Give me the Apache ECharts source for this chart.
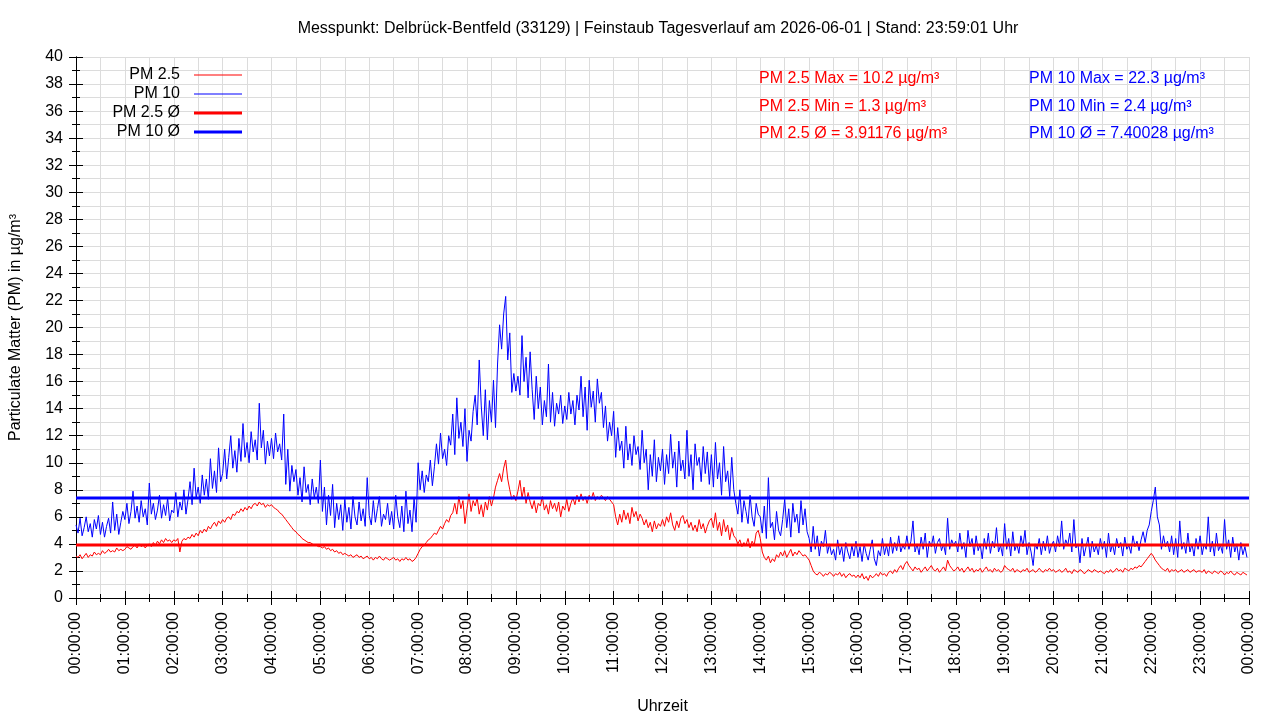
<!DOCTYPE html>
<html>
<head>
<meta charset="utf-8">
<title>Feinstaub Tagesverlauf</title>
<script src="https://cdn.jsdelivr.net/npm/echarts@6/dist/echarts.min.js"></script>
<style>
  html, body { margin: 0; padding: 0; background: #fff; }
  #chart { width: 1280px; height: 720px; }
</style>
</head>
<body>
<div id="chart"></div>
<script>
// one sample every 2.5 minutes, two lines per hour (00h ... 23h), values in µg/m³
var stepMinutes = 2.5;

var pm25 = [
    3.1, 3.0, 3.2, 2.9, 3.1, 3.3, 3.0, 3.2, 3.1, 3.4, 3.2, 3.3,
    3.2, 3.5, 3.3, 3.4, 3.6, 3.4, 3.5, 3.4, 3.7, 3.5, 3.6, 3.5,
    3.6, 3.8, 3.7, 3.6, 3.8, 3.9, 3.7, 4.0, 3.8, 3.9, 3.7, 3.9,
    4.0, 3.8, 4.1, 3.9, 4.2, 4.0, 4.3, 4.1, 4.4, 4.2, 4.3, 4.1,
    4.3, 4.2, 4.4, 3.4, 4.2, 4.4, 4.3, 4.5, 4.4, 4.7, 4.5, 4.8,
    4.6, 5.0, 4.8, 5.1, 4.9, 5.3, 5.1, 5.4, 5.6, 5.3, 5.7, 5.5,
    5.8, 5.6, 5.9, 6.0, 5.8, 6.2, 6.1, 6.4, 6.3, 6.6, 6.4, 6.7,
    6.5, 6.8, 6.6, 6.9, 7.0, 6.8, 7.1, 6.9, 7.0, 6.7, 6.9, 6.8,
    6.9, 6.7, 6.6, 6.5, 6.3, 6.2, 6.0, 5.8, 5.6, 5.4, 5.2, 5.0,
    4.9, 4.7, 4.6, 4.4, 4.3, 4.2, 4.1, 4.1, 4.0, 3.9, 3.9, 3.8,
    3.8, 3.7, 3.8, 3.6, 3.7, 3.5, 3.6, 3.4, 3.5, 3.3, 3.4, 3.2,
    3.3, 3.2, 3.1, 3.2, 3.0, 3.1, 3.2, 3.0, 3.1, 2.9, 3.0, 3.1,
    2.9, 3.0, 2.8, 3.0, 2.9, 3.1, 2.9, 2.8, 3.0, 2.9, 2.8, 2.9,
    3.0, 2.8, 2.9, 2.7, 2.9, 2.8, 3.0, 2.8, 2.9, 2.7, 2.8, 3.0,
    3.3, 3.6, 3.8, 3.9, 4.1, 4.3, 4.4, 4.6, 4.8, 4.7, 5.0, 5.3,
    5.1, 5.5, 5.8, 5.6, 6.1, 6.3, 7.0, 6.2, 7.5, 6.6, 7.2, 5.5,
    6.6, 7.7, 6.4, 7.2, 6.8, 7.4, 6.2, 6.9, 6.0, 7.1, 6.5, 7.5,
    6.8, 7.4, 8.2, 8.7, 9.2, 8.6, 9.6, 10.2, 8.8, 8.0, 7.3, 7.6,
    7.2, 7.9, 8.7, 7.4, 8.2, 7.0, 7.8, 7.1, 6.6, 7.2, 6.3, 7.0,
    6.8, 7.5, 6.5, 6.9, 6.2, 7.2, 6.6, 7.0, 6.4, 7.1, 6.0, 6.8,
    6.5, 7.3, 6.4, 7.0, 7.4, 6.9, 7.6, 7.1, 7.7, 7.2, 7.5, 7.0,
    7.6, 7.3, 7.8, 7.2, 7.5, 7.3, 7.6, 7.4, 7.2, 7.5, 7.3, 7.1,
    6.9, 6.0, 5.4, 6.2, 5.6, 6.5, 5.8, 6.3, 5.5, 6.7, 6.0, 6.4,
    5.7, 6.2, 5.9, 5.4, 5.8, 5.2, 5.6, 4.9, 5.7, 5.1, 5.5, 5.3,
    5.8, 5.3, 6.0, 5.6, 6.3, 5.4, 5.0, 5.7, 5.2, 5.9, 6.1, 5.5,
    5.8, 5.2, 5.6, 5.0, 5.4, 4.9, 5.8, 5.1, 5.5, 4.8, 5.3, 5.7,
    5.9, 5.2, 6.3, 5.0, 5.6, 4.6, 5.8, 4.9, 5.4, 4.3, 5.2, 4.6,
    4.4, 4.0, 4.3, 3.8, 4.1, 3.9, 4.4, 3.7, 4.2, 3.9, 4.8, 5.0,
    4.4, 3.4, 3.0, 2.8, 3.1, 2.6, 2.9, 2.7, 3.2, 3.0, 3.4, 3.1,
    3.5, 3.0, 3.3, 3.6, 3.1, 3.4, 3.2, 3.5, 3.3, 3.1, 3.2, 3.0,
    2.8, 2.4, 2.0, 1.8, 1.7, 1.9, 1.8, 1.6, 1.8, 1.7, 1.9, 1.8,
    1.6, 1.8, 1.7, 1.9, 1.6, 1.8, 1.5, 1.7, 1.8, 1.6, 1.7, 1.5,
    1.7, 1.5, 1.8, 1.4, 1.6, 1.3, 1.7, 1.5, 1.6, 1.8, 1.6, 1.9,
    1.7, 1.8, 1.6, 1.9, 2.0, 1.8, 2.1, 1.9, 2.2, 2.4, 2.1, 2.5,
    2.7, 2.4, 2.2, 2.0, 2.3, 2.1, 2.2, 1.9, 2.1, 2.3, 2.0, 2.2,
    2.4, 2.1, 2.0, 2.2, 1.9, 2.1, 2.3, 2.0, 2.8, 2.4, 2.2, 2.0,
    2.1, 2.3, 2.0, 2.2, 1.9, 2.1, 2.3, 2.0, 2.2, 1.9, 2.1, 2.0,
    2.2, 1.9, 2.1, 2.3, 2.0, 2.1, 1.9, 2.2, 2.0, 2.1, 1.9, 2.0,
    2.4, 2.2, 2.1, 2.0, 2.2, 1.9, 2.1, 2.0, 1.9, 2.1, 2.0, 2.2,
    1.9, 2.0, 2.1, 1.9, 2.0, 2.2, 2.0, 1.9, 2.1, 2.0, 2.2, 2.0,
    2.1, 1.9, 2.0, 2.1, 1.9, 2.0, 2.2, 1.9, 2.0, 1.8, 2.1, 2.0,
    1.9, 2.1, 2.0, 1.8, 1.9, 2.1, 2.0, 1.9, 2.1, 2.0, 1.9, 2.0,
    1.9, 1.8, 2.0, 1.9, 2.1, 1.9, 2.0, 2.2, 2.0, 2.1, 1.9, 2.2,
    2.1, 2.0, 2.2, 2.1, 2.3, 2.2, 2.4, 2.3, 2.5, 2.7, 2.9, 3.1,
    3.3, 3.1, 2.8, 2.6, 2.4, 2.2, 2.1, 2.0, 2.2, 1.9, 2.1, 2.0,
    2.1, 1.9, 2.0, 2.1, 1.9, 2.0, 2.1, 1.9, 2.0, 2.1, 1.9, 2.0,
    2.0, 1.9, 2.1, 1.8, 2.0, 1.9, 1.8, 2.0, 1.9, 1.8, 2.0, 1.9,
    1.7, 1.9, 1.8, 2.0, 1.8, 1.7, 1.9, 1.8, 1.7, 1.9, 1.8, 1.7
];

var pm10 = [
    5.4, 4.8, 5.9, 4.6, 5.2, 6.0, 4.9, 5.5, 4.5, 5.8, 5.1, 6.1,
    4.7, 5.6, 4.5, 5.3, 5.9, 4.8, 7.1, 5.0, 6.2, 4.7, 5.6, 6.4,
    5.8, 7.0, 5.5, 6.4, 7.9, 5.9, 6.8, 5.6, 7.2, 6.0, 6.6, 5.4,
    8.5, 6.2, 7.0, 5.8, 6.5, 7.6, 5.9, 6.9, 6.1, 7.4, 5.7, 6.5,
    6.3, 7.8, 6.0, 7.1, 6.5, 8.0, 6.2, 7.3, 8.6, 6.9, 9.6, 7.4,
    8.2, 7.0, 9.1, 7.6, 8.8, 7.3, 10.3, 8.1, 9.4, 7.8, 11.1, 8.6,
    9.2, 11.0, 8.8, 10.4, 12.0, 9.6, 10.9, 9.3, 11.8, 10.1, 12.9, 10.4,
    11.5, 10.0, 12.3, 10.8, 11.7, 10.2, 14.4, 11.1, 12.4, 9.9, 11.6, 10.5,
    11.8, 10.3, 12.2, 10.8, 11.4, 10.2, 13.6, 8.4, 11.0, 7.9, 9.8, 8.6,
    9.5, 7.6, 8.9, 7.1, 9.7, 7.8, 8.4, 6.9, 8.8, 7.4, 8.2, 7.0,
    10.2, 6.4, 8.2, 5.4, 7.6, 6.1, 8.4, 5.2, 7.0, 5.8, 6.9, 5.0,
    7.3, 5.6, 6.7, 5.1, 7.5, 6.0, 5.4, 7.1, 5.7, 6.6, 5.3, 8.9,
    6.1, 5.4, 7.2, 5.6, 6.6, 7.5, 5.3, 6.2, 5.8, 7.0, 5.4, 6.4,
    5.1, 7.6, 6.0, 5.2, 6.8, 4.9, 7.9, 5.5, 6.5, 4.9, 7.4, 5.6,
    10.0, 8.0, 9.4, 7.8, 9.1, 8.6, 10.2, 8.3, 9.7, 11.4, 9.9, 12.2,
    10.3, 11.0, 9.8, 12.0, 11.3, 13.6, 10.6, 14.8, 11.8, 13.0, 11.2, 14.0,
    10.1, 12.4, 11.6, 13.8, 15.0, 12.8, 17.6, 14.2, 12.0, 15.4, 11.7, 14.6,
    13.0, 16.1, 12.6, 17.3, 20.2, 18.4, 21.0, 22.3, 17.6, 19.6, 15.2, 16.6,
    15.3, 16.4, 15.0, 19.4, 16.0, 17.8, 14.8, 18.2, 15.4, 13.2, 16.4, 14.0,
    15.6, 12.8, 14.6, 13.4, 17.3, 13.0, 15.2, 12.7, 14.4, 13.6, 15.0, 12.9,
    14.2, 13.2, 15.2, 13.6, 14.6, 12.8, 15.0, 13.9, 16.4, 13.4, 15.6, 12.4,
    16.1, 14.1, 15.3, 13.0, 16.2, 14.4, 15.2, 12.6, 14.2, 11.6, 13.0, 12.0,
    13.8, 10.4, 12.6, 10.9, 11.6, 9.6, 12.7, 10.2, 11.4, 9.8, 12.0, 10.6,
    11.2, 9.5, 12.4, 10.0, 11.0, 8.0, 10.6, 9.0, 11.7, 8.6, 10.4, 9.4,
    11.0, 8.4, 10.6, 9.2, 12.1, 9.6, 10.8, 8.2, 11.6, 9.4, 10.2, 8.8,
    12.4, 9.0, 10.6, 8.0, 11.4, 9.8, 10.4, 8.6, 11.2, 9.2, 10.8, 8.4,
    10.6, 8.2, 11.5, 8.8, 10.0, 7.6, 11.2, 8.6, 9.4, 7.5, 10.4, 8.0,
    7.0, 6.2, 8.0, 5.6, 7.2, 6.4, 5.5, 7.6, 6.0, 5.3, 7.0, 6.2,
    6.0, 4.8, 6.8, 4.4, 8.9, 5.2, 5.6, 4.3, 6.4, 5.0, 4.6, 5.8,
    7.3, 5.2, 6.6, 4.5, 7.0, 5.6, 6.2, 4.8, 7.2, 5.4, 6.6, 4.9,
    4.4, 3.4, 5.3, 3.6, 4.6, 3.1, 4.2, 3.8, 5.0, 3.3, 4.0, 3.2,
    3.6, 2.8, 4.3, 3.2, 3.8, 2.7, 4.1, 3.4, 2.9, 3.9, 3.1, 4.2,
    3.0, 3.8, 2.7, 4.0, 3.3, 2.8, 3.6, 4.3, 2.9, 2.4, 3.5, 3.1,
    4.4, 3.2, 3.9, 3.1, 4.5, 3.3, 4.1, 3.5, 4.6, 3.4, 3.9, 3.6,
    4.6, 3.6, 4.2, 5.7, 3.4, 4.0, 3.2, 4.5, 3.6, 4.8, 3.0, 4.2,
    3.8, 4.6, 3.3, 4.1, 4.4, 3.5, 4.0, 3.2, 5.9, 3.6, 4.3, 3.9,
    4.2, 3.4, 4.8, 3.6, 4.1, 3.0, 5.0, 3.8, 4.4, 3.2, 4.6, 3.5,
    4.0, 2.9, 4.4, 3.6, 4.8, 3.3, 4.2, 3.7, 5.2, 3.4, 3.9, 3.1,
    5.5, 3.6, 4.4, 3.1, 4.9, 3.5, 4.0, 3.3, 4.6, 3.8, 5.0, 3.2,
    4.1, 3.4, 2.4, 4.0, 3.6, 4.4, 3.2, 4.2, 3.5, 4.6, 3.3, 3.9,
    4.2, 3.4, 4.6, 3.8, 5.7, 3.6, 4.3, 3.9, 4.8, 3.4, 5.8, 3.7,
    4.0, 2.6, 4.4, 3.1, 3.8, 4.5, 3.0, 4.2, 3.4, 3.9, 3.2, 4.4,
    3.6, 4.2, 3.0, 4.8, 3.4, 4.0, 3.2, 4.4, 3.7, 4.1, 3.1, 4.5,
    3.6, 3.9, 3.3, 4.6, 3.8, 4.2, 3.5, 4.3, 4.9, 4.1, 5.0, 5.4,
    6.4, 7.2, 8.2, 6.0, 5.4, 3.6, 4.6, 3.8, 4.2, 3.4, 4.6, 3.2,
    4.4, 3.0, 5.7, 3.6, 4.1, 3.3, 4.8, 3.4, 4.0, 3.1, 4.4, 3.6,
    4.6, 3.2, 4.0, 3.6, 6.0, 3.4, 4.2, 3.1, 4.8, 3.5, 3.9, 3.3,
    5.8, 3.6, 4.3, 3.0, 4.5, 3.4, 4.0, 2.8, 4.1, 3.2, 3.8, 3.0
];

// day statistics as printed on the chart
var pm25Max = 10.2, pm25Min = 1.3, pm25Avg = 3.91176;
var pm10Max = 22.3, pm10Min = 2.4, pm10Avg = 7.40028;

var dayStart = 0, dayEnd = 1440;
var titleText = 'Messpunkt: Delbrück-Bentfeld (33129) | Feinstaub Tagesverlauf am 2026-06-01 | Stand: 23:59:01 Uhr';

var fontFamily = '"Liberation Sans", Arial, sans-serif';

function withTime(values) {
    return values.map(function (v, i) { return [i * stepMinutes, v]; });
}

function hourLabel(v) {
    var h = Math.floor(v / 60) % 24;
    return (h < 10 ? '0' : '') + h + ':00:00';
}

function legendItem(name, top, thick) {
    return {
        data: [name],
        top: top,
        right: 1038,
        orient: 'horizontal',
        align: 'right',
        icon: 'rect',
        itemWidth: 48,
        itemHeight: thick ? 3 : 1,
        padding: 0,
        selectedMode: false,
        textStyle: { fontSize: 16, color: '#000', fontFamily: fontFamily, padding: [0, 9, 0, 0] }
    };
}

function statText(x, y, text, color) {
    return {
        type: 'text',
        left: x,
        top: y,
        z: 100,
        style: { text: text, fill: color, font: '16px ' + fontFamily }
    };
}

var chart = echarts.init(document.getElementById('chart'));

var gridColor = '#dcdcdc';
var tickStyle = { color: '#000', width: 1 };

var option = {
    animation: false,
    backgroundColor: '#fff',
    textStyle: { fontFamily: fontFamily },
    title: {
        text: titleText,
        left: 653,
        top: 16,
        textAlign: 'center',
        textStyle: { fontSize: 16, fontWeight: 'normal', color: '#000', fontFamily: fontFamily }
    },
    legend: [
        legendItem('PM 2.5', 67, false),
        legendItem('PM 10', 86, false),
        legendItem('PM 2.5 Ø', 105, true),
        legendItem('PM 10 Ø', 124, true)
    ],
    graphic: [
        statText(759, 71, 'PM 2.5 Max = ' + pm25Max + ' µg/m³', '#ff0000'),
        statText(759, 99, 'PM 2.5 Min = ' + pm25Min + ' µg/m³', '#ff0000'),
        statText(759, 126, 'PM 2.5 Ø = ' + pm25Avg + ' µg/m³', '#ff0000'),
        statText(1029, 71, 'PM 10 Max = ' + pm10Max + ' µg/m³', '#0000ff'),
        statText(1029, 99, 'PM 10 Min = ' + pm10Min + ' µg/m³', '#0000ff'),
        statText(1029, 126, 'PM 10 Ø = ' + pm10Avg + ' µg/m³', '#0000ff')
    ],
    grid: { left: 74, right: 31, top: 57, bottom: 122 },
    xAxis: [
        {
            type: 'value',
            position: 'bottom',
            min: dayStart,
            max: dayEnd,
            interval: 60,
            name: 'Uhrzeit',
            nameLocation: 'middle',
            nameGap: 101,
            nameTextStyle: { fontSize: 16, color: '#000' },
            axisLine: { show: true, lineStyle: tickStyle },
            axisTick: { show: true, inside: true, length: 7, lineStyle: tickStyle },
            minorTick: { show: true, splitNumber: 2, length: 4, lineStyle: tickStyle },
            splitLine: { show: true, lineStyle: { color: gridColor, width: 1 } },
            minorSplitLine: { show: true, lineStyle: { color: gridColor, width: 1 } },
            axisLabel: {
                rotate: 90, margin: 14, fontSize: 16, color: '#000',
                showMinLabel: true, showMaxLabel: true, formatter: hourLabel
            }
        },
        {
            type: 'value',
            position: 'top',
            min: dayStart,
            max: dayEnd,
            interval: 60,
            axisLine: { show: true, lineStyle: tickStyle },
            axisTick: { show: true, inside: true, length: 7, lineStyle: tickStyle },
            minorTick: { show: true, splitNumber: 2, length: 4, lineStyle: tickStyle },
            splitLine: { show: false },
            axisLabel: { show: false }
        }
    ],
    yAxis: [
        {
            type: 'value',
            position: 'left',
            min: 0,
            max: 40,
            interval: 2,
            name: 'Particulate Matter (PM) in µg/m³',
            nameLocation: 'middle',
            nameGap: 52,
            nameTextStyle: { fontSize: 16, color: '#000' },
            axisLine: { show: true, lineStyle: tickStyle },
            axisTick: { show: true, inside: true, length: 7, lineStyle: tickStyle },
            minorTick: { show: true, splitNumber: 2, length: 4, lineStyle: tickStyle },
            splitLine: { show: true, lineStyle: { color: gridColor, width: 1 } },
            minorSplitLine: { show: true, lineStyle: { color: gridColor, width: 1 } },
            axisLabel: { margin: 13, fontSize: 16, color: '#000' }
        },
        {
            type: 'value',
            position: 'right',
            min: 0,
            max: 40,
            interval: 2,
            axisLine: { show: true, lineStyle: tickStyle },
            axisTick: { show: true, inside: true, length: 7, lineStyle: tickStyle },
            minorTick: { show: true, splitNumber: 2, length: 4, lineStyle: tickStyle },
            splitLine: { show: false },
            axisLabel: { show: false }
        }
    ],
    series: [
        {
            name: 'PM 2.5',
            type: 'line',
            symbol: 'none',
            color: '#ff0000',
            lineStyle: { width: 1, color: '#ff0000' },
            data: withTime(pm25)
        },
        {
            name: 'PM 10',
            type: 'line',
            symbol: 'none',
            color: '#0000ff',
            lineStyle: { width: 1, color: '#0000ff' },
            data: withTime(pm10)
        },
        {
            name: 'PM 2.5 Ø',
            type: 'line',
            symbol: 'none',
            color: '#ff0000',
            lineStyle: { width: 3, color: '#ff0000' },
            data: [[dayStart, pm25Avg], [dayEnd, pm25Avg]]
        },
        {
            name: 'PM 10 Ø',
            type: 'line',
            symbol: 'none',
            color: '#0000ff',
            lineStyle: { width: 3, color: '#0000ff' },
            data: [[dayStart, pm10Avg], [dayEnd, pm10Avg]]
        }
    ]
};

chart.setOption(option);
</script>
</body>
</html>
